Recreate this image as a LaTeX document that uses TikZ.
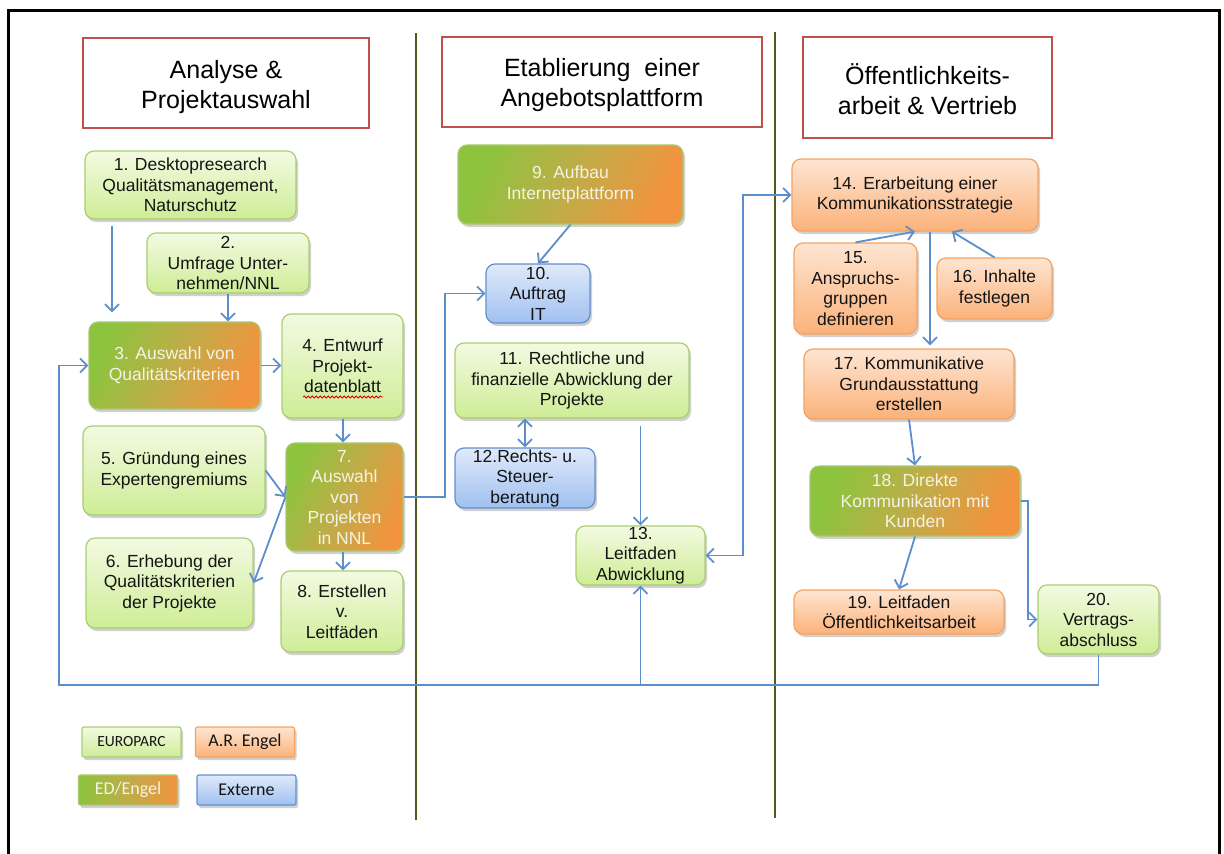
\documentclass[tikz,border=0pt]{standalone}
\usepackage{fontspec}
\setmainfont{Liberation Sans}
\newfontfamily\calibfont{Carlito}
\usetikzlibrary{arrows.meta,shadows,decorations.pathmorphing,calc}
\definecolor{gtop}{RGB}{243,250,226}
\definecolor{gbot}{RGB}{206,237,150}
\definecolor{gbord}{RGB}{170,206,112}
\definecolor{otop}{RGB}{254,229,210}
\definecolor{obot}{RGB}{251,178,122}
\definecolor{obord}{RGB}{246,162,96}
\definecolor{btop}{RGB}{224,234,250}
\definecolor{bbot}{RGB}{160,192,240}
\definecolor{bbord}{RGB}{100,143,205}
\definecolor{mixg}{RGB}{140,196,62}
\definecolor{mixm}{RGB}{192,172,72}
\definecolor{mixo}{RGB}{242,148,62}
\definecolor{mixbord}{RGB}{170,200,110}
\definecolor{mixtext}{RGB}{244,244,228}
\definecolor{connc}{RGB}{92,142,205}
\definecolor{divc}{RGB}{78,90,32}
\definecolor{hdrc}{RGB}{192,80,77}
\definecolor{txtc}{RGB}{20,20,20}
\newcommand\bxfont{\fontsize{17.5}{20.5}\selectfont}
\newcommand\hdfont{\fontsize{25}{30}\selectfont}
\begin{document}
\begin{tikzpicture}[x=1pt,y=-1pt,
  sz/.style 2 args={minimum width=#1pt, minimum height=#2pt},
  shad/.style={drop shadow={shadow xshift=2pt,shadow yshift=-3pt,opacity=0.3,fill=black!60}},
  box/.style={rounded corners=9pt, draw, line width=1.2pt, align=center, inner sep=0pt,
              font=\bxfont, text=txtc, shad},
  gbox/.style={box, draw=gbord, top color=gtop, bottom color=gbot},
  obox/.style={box, draw=obord, top color=otop, bottom color=obot},
  bbox/.style={box, draw=bbord, top color=btop, bottom color=bbot},
  mbox/.style={box, draw=mixbord, left color=mixg, right color=mixo, middle color=mixm,
               shading angle=65, text=mixtext},
  hdr/.style={draw=hdrc, line width=2pt, fill=white, inner sep=0pt},
  hdrtext/.style={align=center, inner sep=0pt, font=\hdfont, text=black},
  lgbox/.style={rounded corners=2pt, draw, line width=1.2pt, inner sep=0pt, sz={99}{30},
                font=\calibfont\fontsize{18}{20}\selectfont, shad},
  conn/.style={draw=connc, line width=1.8pt},
  arr/.style={conn, -{Straight Barb[length=7pt,width=14pt]}},
  arrboth/.style={conn, {Straight Barb[length=7pt,width=14pt]}-{Straight Barb[length=7pt,width=14pt]}},
  divider/.style={draw=divc, line width=2pt}
]
\useasboundingbox (0,0) rectangle (1224,854);
\fill[white] (0,0) rectangle (1224,854);
% outer frame
\draw[line width=3pt, black] (8,860) -- (8,10) -- (1219,10) -- (1219,860);
% dividers
\draw[divider] (416,33) -- (416,820);
\draw[divider] (775,32) -- (775,818);

% headers
\node[hdr, sz={286}{90}] (h1) at (226,83) {};
\node[hdrtext] (t1) at ($(h1)+(0,4)$) {Analyse \&\\Projektauswahl};
\node[hdr, sz={320}{90}] (h2) at (602,82) {};
\node[hdrtext] (t2) at ($(h2)+(0,3)$) {Etablierung\ \ einer\\Angebotsplattform};
\node[hdr, sz={249}{101}] (h3) at (927.5,87.5) {};
\node[hdrtext] (t3) at ($(h3)+(0,2)$) {Öffentlichkeits-\\arbeit \& Vertrieb};

% left column
\node[gbox, sz={211}{68}] (b1) at (190.5,185) {1. Desktopresearch\\Qualitätsmanagement,\\Naturschutz};
\node[gbox, sz={162}{60}] (b2) at (228,263) {2.\\Umfrage Unter-\\nehmen/NNL};
\node[mbox, sz={171}{87}] (b3) at (174.5,365.5) {3. Auswahl von\\Qualitätskriterien};
\node[gbox, sz={121}{104}] (b4) at (342.5,366) {4. Entwurf\\Projekt-\\datenblatt};
\node[gbox, sz={182}{89}] (b5) at (174,470.5) {5. Gründung eines\\Expertengremiums};
\node[gbox, sz={167}{90}] (b6) at (169.5,583) {6. Erhebung der\\Qualitätskriterien\\der Projekte};
\node[mbox, sz={117}{108}] (b7) at (344.5,497) {7.\\Auswahl\\von\\Projekten\\in NNL};
\node[gbox, sz={122}{81}] (b8) at (342,611.5) {8. Erstellen\\v.\\Leitfäden};

% middle column
\node[mbox, sz={225}{79}] (b9) at (570.5,184.5) {9. Aufbau\\Internetplattform};
\node[bbox, sz={104}{59}] (b10) at (538,293.5) {10.\\Auftrag\\IT};
\node[gbox, sz={234}{75}] (b11) at (572,380.5) {11. Rechtliche und\\finanzielle Abwicklung der\\Projekte};
\node[bbox, sz={140}{60}] (b12) at (525,478) {12.Rechts- u.\\Steuer-\\beratung};
\node[gbox, sz={129}{59}] (b13) at (640.5,555.5) {13.\\Leitfaden\\Abwicklung};

% right column
\node[obox, sz={246}{72}] (b14) at (915,195) {14. Erarbeitung einer\\Kommunikationsstrategie};
\node[obox, sz={123}{91}] (b15) at (855.5,288.5) {15.\\Anspruchs-\\gruppen\\definieren};
\node[obox, sz={115}{61}] (b16) at (994.5,288.5) {16. Inhalte\\festlegen};
\node[obox, sz={210}{70}] (b17) at (909,384) {17. Kommunikative\\Grundausstattung\\erstellen};
\node[mbox, sz={210}{70}] (b18) at (915,501) {18. Direkte\\Kommunikation mit\\Kunden};
\node[obox, sz={210}{44}] (b19) at (899,612) {19. Leitfaden\\Öffentlichkeitsarbeit};
\node[gbox, sz={121}{69}] (b20) at (1098.5,619.5) {20.\\Vertrags-\\abschluss};

% legend
\node[lgbox, draw=gbord, top color=gtop, bottom color=gbot, text=txtc,
      font=\calibfont\fontsize{15.5}{18}\selectfont] (l1) at (131.5,742) {EUROPARC};
\node[lgbox, draw=obord, top color=otop, bottom color=obot, text=txtc] (l2) at (245,742) {A.R. Engel};
\node[lgbox, draw=mixbord, left color=mixg, right color=mixo, middle color=mixm, text=mixtext] (l3) at (128,790) {ED/Engel};
\node[lgbox, draw=bbord, top color=btop, bottom color=bbot, text=txtc] (l4) at (246.5,790) {Externe};

% spell-check underline
\coordinate (ul1) at (303,397);
\coordinate (ul2) at (383,397);
\draw[red!85!black, line width=0.8pt, decorate, decoration={snake, amplitude=1pt, segment length=4pt}] (ul1) -- (ul2);

% helper coordinates
\coordinate (cx1) at (112,0);
\coordinate (cx3) at (343,0);
\coordinate (cx4) at (445,0);
\coordinate (cx5) at (743,0);
\coordinate (cx6) at (952,0);
\coordinate (cx7) at (930,0);
\coordinate (cx8) at (1028,0);
\coordinate (lpl) at (59,685);

% connectors
\draw[arr, shorten <=6pt, shorten >=9pt] (b1.south -| cx1) -- (b3.north -| cx1);
\draw[arr] (b2.south) -- (b2.south |- b3.north);
\draw[arr] (b3.east) -- (b3.east -| b4.west);
\draw[arr] (b20.south) |- (lpl) |- (b3.west);
\draw[arr] (b13.south |- lpl) -- (b13.south);
\draw[arr] (b4.south -| cx3) -- (b7.north -| cx3);
\draw[arr] (b5.east) -- (b7.west);
\draw[arr] (b7.west) -- (b6.east);
\draw[arr] (b7.south -| cx3) -- (b8.north -| cx3);
\draw[arr] (b7.east) -| (cx4 |- b10.west) -- (b10.west);
\draw[arr] (b9.south) -- (b10.north);
\draw[arrboth] (b12.north |- b11.south) -- (b12.north);
\draw[arr, shorten <=7pt] (b13.north |- b11.south) -- (b13.north);
\draw[arrboth] (b13.east) -| (cx5 |- b14.west) -- (b14.west);
\draw[arr] (b15.north) -- (b14.south);
\draw[arr] (b16.north) -- (b14.south -| cx6);
\draw[arr, shorten >=3pt] (b14.south -| cx7) -- (b17.north -| cx7);
\draw[arr] (b17.south) -- (b18.north);
\draw[arr] (b18.south) -- (b19.north);
\draw[arr] (b18.east) -| (cx8 |- b20.west) -- (b20.west);
\end{tikzpicture}
\end{document}
